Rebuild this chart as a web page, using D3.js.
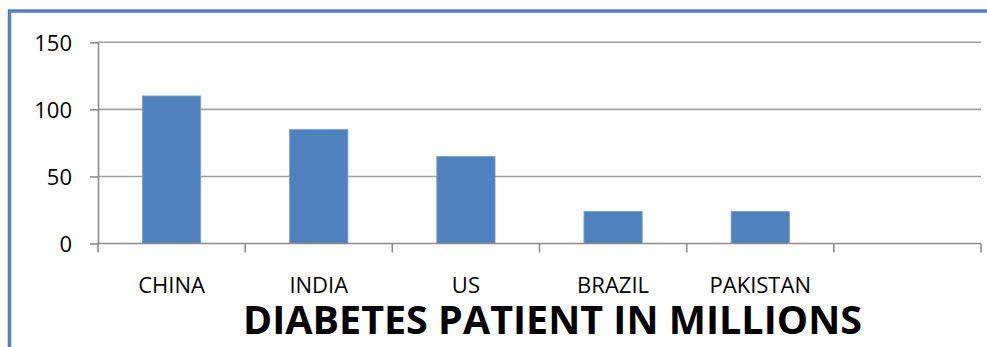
<!DOCTYPE html>
<html>
<head>
<meta charset="utf-8">
<script src="https://cdn.jsdelivr.net/npm/d3@7"></script>
<style>
  html, body { margin: 0; padding: 0; background: #fff; }
  svg { display: block; }
</style>
</head>
<body>
<svg id="chart" width="987" height="347"></svg>
<script>
// Diabetes patients by country, in millions
const categories = ["CHINA", "INDIA", "US", "BRAZIL", "PAKISTAN", ""];
const patients = [110, 85, 65, 24, 24, null];
const yTicks = [0, 50, 100, 150];
const title = "DIABETES PATIENT IN MILLIONS";

const svg = d3.select("#chart");
const W = 987, H = 347;
const plot = { left: 98, right: 981, top: 42.3, bottom: 243.5 };

// outer frame (top and left edges visible)
svg.append("rect")
  .attr("x", 9.5).attr("y", 11)
  .attr("width", W + 20).attr("height", H + 20)
  .attr("fill", "none")
  .attr("stroke", "#4f81bd")
  .attr("stroke-width", 3.5);

const x = d3.scaleBand()
  .domain(categories)
  .range([plot.left, plot.right])
  .paddingInner(0.604)
  .paddingOuter(0.302);

const y = d3.scaleLinear()
  .domain([0, 150])
  .range([plot.bottom, plot.top]);

const font = "'Open Sans', 'DejaVu Sans', sans-serif";

// horizontal gridlines
svg.append("g")
  .selectAll("line")
  .data(yTicks.filter(d => d > 0))
  .join("line")
  .attr("x1", plot.left).attr("x2", plot.right)
  .attr("y1", d => y(d)).attr("y2", d => y(d))
  .attr("stroke", "#a0a0a0")
  .attr("stroke-width", 1.6);

// bars
svg.append("g")
  .selectAll("rect")
  .data(categories.map((c, i) => ({ c, v: patients[i] })).filter(d => d.v != null))
  .join("rect")
  .attr("x", d => x(d.c))
  .attr("y", d => y(d.v))
  .attr("width", x.bandwidth())
  .attr("height", d => y(0) - y(d.v))
  .attr("fill", "#4f81bd")
  .attr("stroke", "#7fa3d1")
  .attr("stroke-width", 0.8);

// y axis
const yAxis = svg.append("g")
  .attr("transform", `translate(${plot.left},0)`)
  .call(d3.axisLeft(y).tickValues(yTicks).tickSize(8).tickPadding(18).tickSizeOuter(0));
yAxis.select(".domain").attr("stroke", "#8c8c8c").attr("stroke-width", 1.6);
yAxis.selectAll(".tick line").attr("stroke", "#8c8c8c").attr("stroke-width", 1.6);
yAxis.selectAll(".tick text")
  .attr("font-family", font)
  .attr("font-size", 22)
  .attr("fill", "#000")
  .attr("dy", "0.36em");

// x axis: line along zero, ticks at category boundaries
const xAxisG = svg.append("g");
xAxisG.append("line")
  .attr("x1", plot.left).attr("x2", plot.right)
  .attr("y1", y(0)).attr("y2", y(0))
  .attr("stroke", "#8c8c8c").attr("stroke-width", 1.6);
const boundaries = categories.map(c => x(c) - x.step() * x.paddingInner() / 2 - 0)
  .map((b, i) => plot.left + i * x.step());
boundaries.push(plot.right);
xAxisG.selectAll("line.tick")
  .data(boundaries)
  .join("line")
  .attr("class", "tick")
  .attr("x1", d => d).attr("x2", d => d)
  .attr("y1", y(0)).attr("y2", y(0) + 9)
  .attr("stroke", "#8c8c8c").attr("stroke-width", 1.6);
xAxisG.selectAll("text")
  .data(categories)
  .join("text")
  .attr("x", d => x(d) + x.bandwidth() / 2)
  .attr("y", 293.3)
  .attr("text-anchor", "middle")
  .attr("font-family", font)
  .attr("font-size", 22)
  .attr("fill", "#000")
  .text(d => d);

// title
svg.append("text")
  .attr("x", 552.5)
  .attr("y", 334)
  .attr("text-anchor", "middle")
  .attr("font-family", font)
  .attr("font-weight", 700)
  .attr("font-size", 39)
  .attr("textLength", 619)
  .attr("lengthAdjust", "spacingAndGlyphs")
  .attr("fill", "#000")
  .text(title);
</script>
</body>
</html>
